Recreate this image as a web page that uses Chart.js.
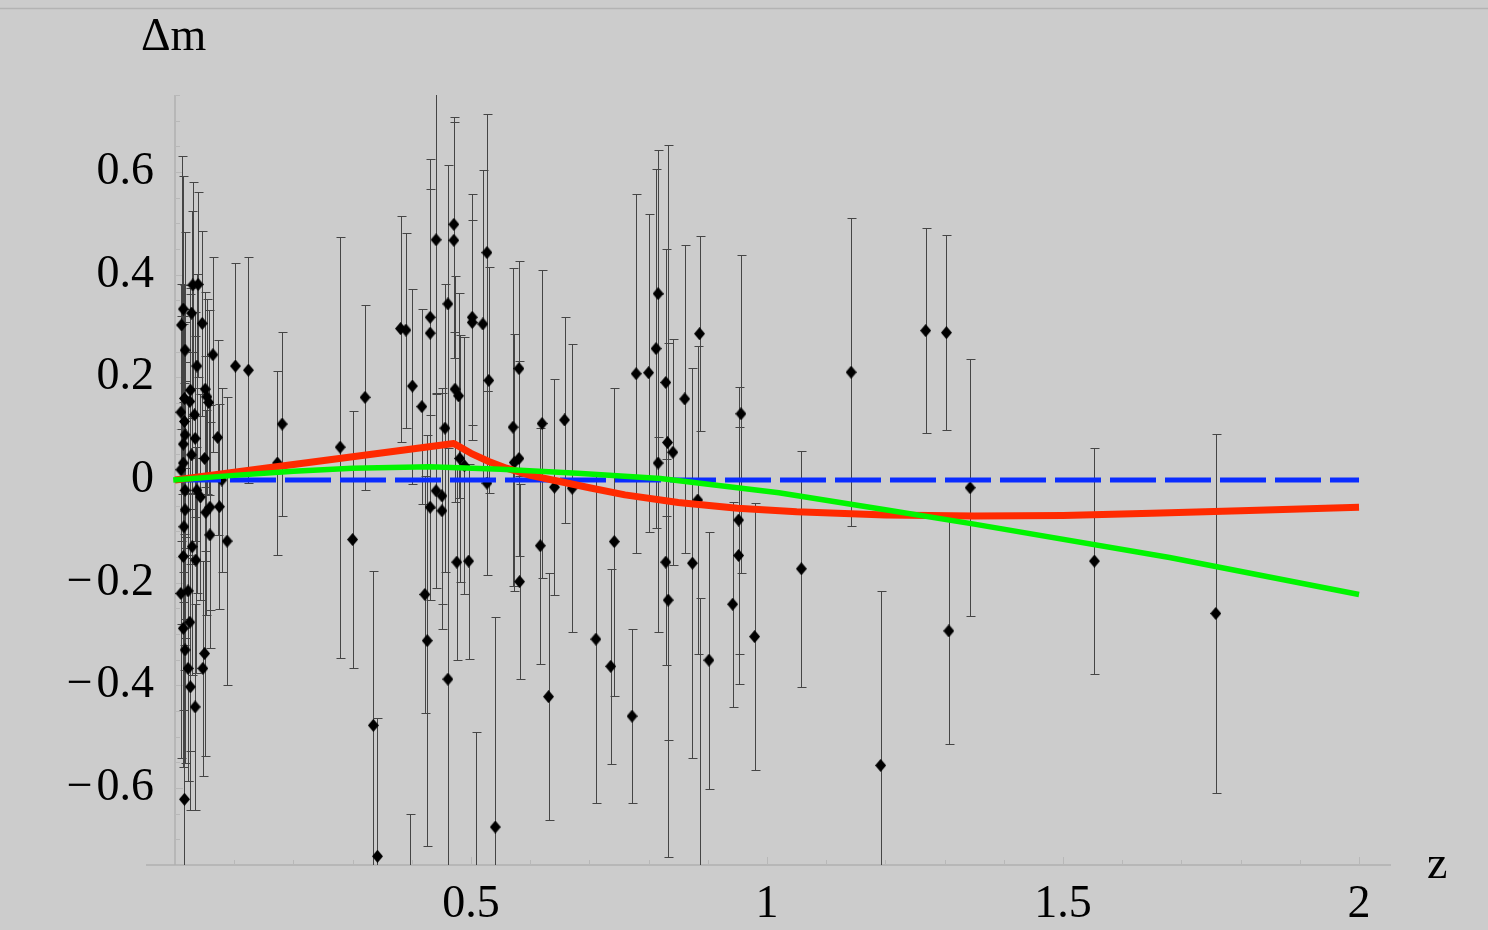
<!DOCTYPE html>
<html>
<head>
<meta charset="utf-8">
<script src="https://cdn.jsdelivr.net/npm/chart.js@4.4.1/dist/chart.umd.min.js"></script>
<style>
  html, body { margin: 0; padding: 0; background: #cccccc; }
  #wrap { position: relative; width: 1488px; height: 930px; }
  canvas { display: block; }
  .pre { font-family: "Liberation Serif"; position: absolute; left: -9999px; top: 0; font-size: 46px; }
</style>
</head>
<body>
<div id="wrap"><canvas id="c" width="1488" height="930"></canvas></div>
<span class="pre">0.5 1 2 &#x394;m z &#x2212;</span>
<script>
// ---- data ----
const ptZ = [0.011,0.014,0.017,0.030,0.039,0.028,0.046,0.064,0.037,0.102,0.124,0.026,0.051,0.054,0.057,0.016,0.025,0.010,0.033,0.072,0.017,0.034,0.014,0.050,0.014,0.079,0.181,0.173,0.088,0.059,0.052,0.075,0.059,0.035,0.029,0.010,0.022,0.014,0.025,0.017,0.022,0.050,0.047,0.026,0.034,0.016,0.014,0.017,0.037,0.043,0.017,0.015,0.028,0.016,0.010,
  0.279,0.321,0.300,0.381,0.390,0.401,0.417,0.431,0.431,0.441,0.461,0.471,0.471,0.456,0.473,0.479,0.502,0.502,0.520,0.527,0.530,0.481,0.489,0.527,0.571,0.581,0.581,0.573,0.620,0.641,0.441,0.451,0.431,0.451,0.422,0.426,0.461,0.476,0.496,0.335,0.342,0.541,0.617,0.582,0.631,0.397,0.508,0.887,
  0.658,0.671,0.742,0.779,0.800,0.8125,0.816,0.816,0.829,0.832,0.841,0.861,0.886,0.883,0.956,0.952,0.711,0.736,0.772,0.829,0.833,0.874,0.902,0.942,0.952,0.979,
  1.058,1.142,1.192,1.268,1.303,1.307,1.343,1.553,1.758];
const ptDm = [0.302,0.333,0.253,0.380,0.381,0.325,0.305,0.244,0.222,0.222,0.214,0.175,0.177,0.162,0.151,0.159,0.153,0.132,0.127,0.083,0.088,0.081,0.070,0.042,0.033,0.000,0.109,0.033,-0.119,-0.053,-0.063,-0.052,-0.107,-0.156,-0.130,-0.221,-0.216,-0.289,-0.277,-0.331,-0.367,-0.338,-0.367,-0.403,-0.442,-0.622,-0.149,-0.020,-0.020,-0.033,-0.058,-0.091,0.049,0.114,0.020,
  0.064,0.161,-0.116,0.295,0.292,0.183,0.143,0.317,0.286,0.468,0.343,0.498,0.467,0.101,0.177,0.164,0.317,0.307,0.304,0.443,0.194,0.042,0.028,-0.006,0.103,0.217,0.042,0.034,0.110,-0.014,-0.021,-0.031,-0.053,-0.060,-0.223,-0.313,-0.388,-0.160,-0.158,-0.478,-0.733,-0.676,-0.128,-0.198,-0.422,-0.950,-0.900,-0.850,
  0.117,-0.016,-0.120,0.207,0.209,0.256,0.363,0.033,0.190,0.073,0.054,0.158,0.285,-0.039,0.129,-0.078,-0.310,-0.363,-0.460,-0.160,-0.234,-0.162,-0.351,-0.242,-0.147,-0.305,
  -0.173,0.210,-0.556,0.291,0.287,-0.294,-0.015,-0.158,-0.260];
const ptErr = [0.33,0.26,0.23,0.20,0.18,0.20,0.18,0.19,0.18,0.20,0.22,0.20,0.19,0.19,0.18,0.22,0.21,0.25,0.20,0.19,0.22,0.20,0.25,0.20,0.27,0.18,0.18,0.18,0.28,0.20,0.20,0.20,0.22,0.22,0.25,0.32,0.37,0.27,0.25,0.22,0.22,0.20,0.21,0.24,0.20,0.30,0.30,0.25,0.20,0.20,0.25,0.28,0.20,0.22,0.30,
  0.41,0.18,0.25,0.22,0.19,0.19,0.19,0.25,0.34,0.30,0.27,0.21,0.23,0.28,0.22,0.20,0.24,0.20,0.30,0.27,0.22,0.24,0.25,0.18,0.31,0.21,0.19,0.25,0.30,0.21,0.19,0.21,0.18,0.23,0.23,0.40,0.45,0.19,0.19,0.30,0.27,0.41,0.23,0.19,0.24,0.30,0.41,0.62,
  0.20,0.28,0.30,0.35,0.31,0.35,0.28,0.33,0.26,0.58,0.22,0.30,0.19,0.30,0.31,0.26,0.32,0.19,0.17,0.20,0.50,0.38,0.25,0.20,0.25,0.26,
  0.23,0.30,0.34,0.20,0.19,0.22,0.25,0.22,0.35];

const redZ  = [0, 0.471, 0.50, 0.53, 0.56, 0.60, 0.65, 0.70, 0.76, 0.85, 0.95, 1.05, 1.20, 1.35, 1.50, 1.65, 1.80, 2.00];
const redDm = [0, 0.071, 0.052, 0.036, 0.023, 0.009, -0.003, -0.015, -0.029, -0.044, -0.055, -0.062, -0.068, -0.070, -0.069, -0.065, -0.060, -0.053];

const greenZ  = [-0.003, 0.10, 0.20, 0.30, 0.43, 0.55, 0.68, 0.82, 1.02, 1.20, 1.35, 1.68, 2.00];
const greenDm = [0, 0.009, 0.017, 0.023, 0.026, 0.021, 0.013, 0.003, -0.025, -0.058, -0.086, -0.151, -0.223];

const blueZ  = [0, 2];
const blueDm = [0, 0];

const xTickValues = [0.5, 1, 1.5, 2];
const xTickLabels = ['0.5', '1', '1.5', '2'];
const yTickValues = [-0.6, -0.4, -0.2, 0, 0.2, 0.4, 0.6];
const yTickLabels = ['\u2212\u200a0.6', '\u2212\u200a0.4', '\u2212\u200a0.2', '0', '0.2', '0.4', '0.6'];

// ---- drawing ----
const FONT = '"Liberation Serif", "Times New Roman", Tinos, "DejaVu Serif", serif';
const FSIZE = 46;

const dia = document.createElement('canvas');
dia.width = 11; dia.height = 13;
(function(){
  const g = dia.getContext('2d');
  g.fillStyle = '#000';
  g.beginPath();
  g.moveTo(5.5, 0); g.lineTo(11, 6.5); g.lineTo(5.5, 13); g.lineTo(0, 6.5);
  g.closePath(); g.fill();
})();

const axesPlugin = {
  id: 'mmaAxes',
  beforeDraw(chart) {
    const { ctx } = chart;
    ctx.save();
    ctx.fillStyle = '#cccccc';
    ctx.fillRect(0, 0, chart.width, chart.height);
    ctx.strokeStyle = '#b3b3b3';
    ctx.lineWidth = 1.5;
    ctx.beginPath(); ctx.moveTo(0, 8.5); ctx.lineTo(chart.width, 8.5); ctx.stroke();
    ctx.restore();
  },
  beforeDatasetsDraw(chart) {
    const { ctx, chartArea: a, scales: { x, y } } = chart;
    ctx.save();
    ctx.strokeStyle = '#b0b0b0';
    ctx.lineWidth = 1.5;
    const x0 = x.getPixelForValue(0);
    const yb = y.getPixelForValue(-0.75);
    const yt = y.getPixelForValue(0.75);
    ctx.beginPath();
    ctx.moveTo(x.getPixelForValue(-0.049), yb); ctx.lineTo(a.right, yb);
    ctx.moveTo(x0, yb); ctx.lineTo(x0, yt);
    ctx.stroke();
    ctx.strokeStyle = '#b8b8b8';
    ctx.lineWidth = 1;
    ctx.beginPath();
    for (let k = 1; k <= 20; k++) {
      const v = k / 10;
      const px = Math.round(x.getPixelForValue(v)) + 0.5;
      const len = (k % 5 === 0) ? 8 : 5;
      ctx.moveTo(px, yb); ctx.lineTo(px, yb - len);
    }
    for (let k = -15; k <= 15; k++) {
      const v = k * 0.05;
      const py = Math.round(y.getPixelForValue(v)) + 0.5;
      const len = (k % 4 === 0) ? 8 : 5;
      ctx.moveTo(x0, py); ctx.lineTo(x0 + len, py);
    }
    ctx.stroke();

    // error bars
    ctx.beginPath();
    ctx.rect(a.left - 10, a.top, a.right - a.left + 10, a.bottom - a.top);
    ctx.clip();
    ctx.strokeStyle = '#454545';
    ctx.lineWidth = 1;
    ctx.beginPath();
    for (let i = 0; i < ptZ.length; i++) {
      const px = Math.round(x.getPixelForValue(ptZ[i])) + 0.5;
      const y1 = Math.round(y.getPixelForValue(ptDm[i] + ptErr[i])) + 0.5;
      const y2 = Math.round(y.getPixelForValue(ptDm[i] - ptErr[i])) + 0.5;
      ctx.moveTo(px, y1); ctx.lineTo(px, y2);
      ctx.moveTo(px - 4, y1); ctx.lineTo(px + 5, y1);
      ctx.moveTo(px - 4, y2); ctx.lineTo(px + 5, y2);
    }
    ctx.stroke();
    ctx.restore();
  },
  afterDraw(chart) {
    const { ctx } = chart;
    ctx.save();
    ctx.fillStyle = '#000';
    ctx.font = FSIZE + 'px ' + FONT;
    ctx.textBaseline = 'alphabetic';
    ctx.textAlign = 'left';
    ctx.fillText('\u0394m', 141, 50);
    ctx.fillText('z', 1427, 878);
    ctx.restore();
  }
};

const toXY = (xs, ys) => xs.map((v, i) => ({ x: v, y: ys[i] }));

function build() {
  new Chart(document.getElementById('c'), {
    type: 'scatter',
    data: {
      datasets: [
        { type: 'line', label: 'green', data: toXY(greenZ, greenDm), borderColor: '#00f500', borderWidth: 5.5,
          pointRadius: 0, tension: 0, fill: false, order: 1, clip: 10 },
        { type: 'line', label: 'red', data: toXY(redZ, redDm), borderColor: '#ff2a00', borderWidth: 7,
          pointRadius: 0, tension: 0, fill: false, order: 2, clip: 10, borderJoinStyle: 'round' },
        { type: 'line', label: 'blue', data: toXY(blueZ, blueDm), borderColor: '#0a2cff', borderWidth: 5,
          borderDash: [46, 9], pointRadius: 0, fill: false, order: 3, clip: 10 },
        { type: 'scatter', label: 'data', data: toXY(ptZ, ptDm), pointStyle: dia, pointRadius: 5,
          order: 4, clip: { left: 10, top: 6, right: 6, bottom: 0 } }
      ]
    },
    options: {
      responsive: false,
      animation: false,
      devicePixelRatio: 1,
      layout: { padding: { top: 95, right: 97, left: 0, bottom: 0 } },
      plugins: { legend: { display: false }, tooltip: { enabled: false }, title: { display: false } },
      scales: {
        x: {
          type: 'linear', min: 0, max: 2.054,
          grid: { display: false, drawTicks: false },
          border: { display: false },
          afterBuildTicks: s => { s.ticks = xTickValues.map(v => ({ value: v })); },
          afterFit: s => { s.height = 65; },
          ticks: {
            font: { family: FONT, size: FSIZE }, color: '#000', padding: 12,
            maxRotation: 0, autoSkip: false,
            callback: (v, i) => xTickLabels[i]
          }
        },
        y: {
          type: 'linear', min: -0.75, max: 0.75,
          grid: { display: false, drawTicks: false },
          border: { display: false },
          afterBuildTicks: s => { s.ticks = yTickValues.map(v => ({ value: v })); },
          afterFit: s => { s.width = 175; },
          ticks: {
            font: { family: FONT, size: FSIZE }, color: '#000', padding: 21,
            autoSkip: false,
            callback: (v, i) => yTickLabels[i]
          }
        }
      }
    },
    plugins: [axesPlugin]
  });
}

if (document.fonts && document.fonts.load) {
  document.fonts.load(FSIZE + 'px "Liberation Serif"', '0.5\u0394m').then(build, build);
} else {
  build();
}
</script>
</body>
</html>
